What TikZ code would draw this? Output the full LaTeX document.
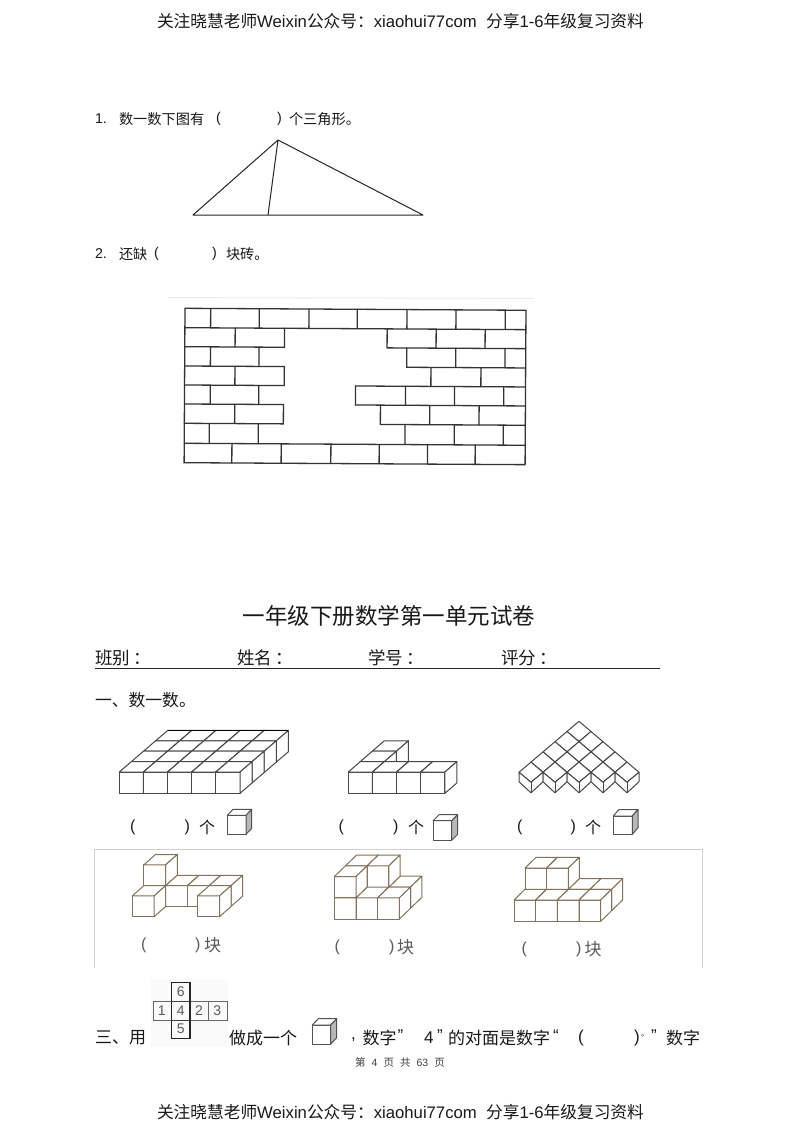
\documentclass[tikz,border=0pt]{standalone}
\usepackage{fontspec}
\setmainfont{Liberation Sans}
\newfontfamily\cjk{Noto Sans CJK SC}
\newcommand{\C}[1]{{\cjk #1}}
\newcommand{\fs}[1]{\fontsize{#1}{#1}\selectfont}
\tikzset{
  txt/.style={anchor=west,inner sep=0pt,outer sep=0pt,text=black!90},
  wall/.style={line width=1.3pt,draw=black!80},
  cubeline/.style={line width=1pt,draw=black!72,line join=round},
  photo/.style={line width=1pt,draw=brown!45!black!72,line join=round},
  icon/.style={line width=1pt,draw=black!68,line join=round},
  faint/.style={draw=black!18,line width=0.8pt}
}
% unit cube in a scope whose x,y,z are the block's axes
\newcommand{\ucube}[4][cubeline]{%
  \filldraw[#1,fill=white] (#2,#3,#4) -- ++(1,0,0) -- ++(0,1,0) -- ++(-1,0,0) -- cycle;
  \filldraw[#1,fill=white] (#2,#3+1,#4) -- ++(1,0,0) -- ++(0,0,1) -- ++(-1,0,0) -- cycle;
  \filldraw[#1,fill=white] (#2+1,#3,#4) -- ++(0,1,0) -- ++(0,0,1) -- ++(0,-1,0) -- cycle;
}
% small icon: front lower-left x,y; size w; depth dx dy
\newcommand{\icube}[6]{%
  \filldraw[icon,fill=white] (#1,#2) rectangle (#1+#3,#2-#4);
  \filldraw[icon,fill=white] (#1,#2-#4) -- ++(#5,-#6) -- ++(#3,0) -- ++(-#5,#6) -- cycle;
  \filldraw[icon,fill=black!28] (#1+#3,#2) -- ++(#5,-#6) -- ++(0,-#4) -- ++(-#5,#6) -- cycle;
}
\begin{document}
\begin{tikzpicture}[x=1pt,y=-1pt]
\useasboundingbox (0,0) rectangle (800,1132);
\fill[white] (0,0) rectangle (800,1132);

% header and footer
\node[txt] (head) at (157,21) {\fs{16.7}\C{关注晓慧老师}Weixin\C{公众号：}xiaohui77com\ \ \C{分享}1-6\C{年级复习资料}};
\node[txt] (foot) at (157,1112) {\fs{16.7}\C{关注晓慧老师}Weixin\C{公众号：}xiaohui77com\ \ \C{分享}1-6\C{年级复习资料}};

% question 1
\node[txt] (q1a) at (95,119) {\fs{14.2}1.};
\node[txt] (q1b) at (119,119) {\fs{14.2}\C{数一数下图有}};
\node[txt] (q1c) at (216,119) {\fs{14.2}(};
\node[txt] (q1d) at (277,119) {\fs{14.2})};
\node[txt] (q1e) at (289,119) {\fs{14.2}\C{个三角形。}};
\coordinate (apex) at (278,140);
\coordinate (tl) at (193,215);
\coordinate (tr) at (423,215);
\coordinate (tf) at (268,215);
\draw[line width=1pt,black!85,line join=round] (apex) -- (tl) -- (tr) -- cycle (apex) -- (tf);

% question 2
\node[txt] (q2a) at (95,254) {\fs{14.2}2.};
\node[txt] (q2b) at (119,254) {\fs{14.2}\C{还缺}};
\node[txt] (q2c) at (154,254) {\fs{14.2}(};
\node[txt] (q2d) at (212,254) {\fs{14.2})};
\node[txt] (q2e) at (226,254) {\fs{14.2}\C{块砖。}};

% brick wall
\draw[draw=black!8,line width=0.8pt] (168,297.5) -- (534,298.5);
\begin{scope}[rotate around={-0.33:(185,308)},wall,line cap=round]
  \draw (185,308.3) rectangle (526,462.7);
  \draw (185,327.7) -- (526,327.7);
  \draw (185,346.7) -- (284.7,346.7) (387.3,346.7) -- (526,346.7);
  \draw (185,366) -- (284.7,366) (407,366) -- (526,366);
  \draw (185,385) -- (284.7,385) (356,385) -- (526,385);
  \draw (185,404) -- (284,404) (356,404) -- (526,404);
  \draw (185,423.3) -- (284,423.3) (381,423.3) -- (526,423.3);
  \draw (185,443.3) -- (526,443.3);
  \foreach \x in {210.7,259.3,309,357.3,407,456,505.3} \draw (\x,308.3) -- (\x,327.7);
  \foreach \x in {235.3,284.7,387.3,436.3,485.3} \draw (\x,327.7) -- (\x,346.7);
  \foreach \x in {210.7,259.3,407,456,505.3} \draw (\x,346.7) -- (\x,366);
  \foreach \x in {235.3,284.7,431.3,481.3} \draw (\x,366) -- (\x,385);
  \foreach \x in {210.7,259.3,356,406,455,504.3} \draw (\x,385) -- (\x,404);
  \foreach \x in {235.3,284,381,430.3,479.7} \draw (\x,404) -- (\x,423.3);
  \foreach \x in {210,259,405.7,455,504} \draw (\x,423.3) -- (\x,443.3);
  \foreach \x in {232.7,282,331.7,380,428.3,476} \draw (\x,443.3) -- (\x,462.7);
\end{scope}

% title
\node[inner sep=0pt,text=black!90] (title) at (389,616) {\fs{22.5}\C{一年级下册数学第一单元试卷}};
\node[txt] (f1) at (95,658) {\fs{17.5}\C{班别}\hspace{3.5pt}\C{：}};
\node[txt] (f2) at (237,658) {\fs{17.5}\C{姓名}\hspace{3.5pt}\C{：}};
\node[txt] (f3) at (368,658) {\fs{17.5}\C{学号}\hspace{3.5pt}\C{：}};
\node[txt] (f4) at (501,658) {\fs{17.5}\C{评分}\hspace{3.5pt}\C{：}};
\coordinate (ula) at (95,668);
\coordinate (ulb) at (660,668);
\draw[line width=0.8pt,black!85] (ula) -- (ulb);
\node[txt] (sec1) at (95,700) {\fs{16.8}\C{一、数一数。}};

% block 1
\begin{scope}[shift={(119.3,793.3)},x={(24.14pt,0pt)},y={(0pt,21.3pt)},z={(12.1pt,10.4pt)}]
  \foreach \r in {3,2,1,0}{\foreach \c in {0,...,4}{\ucube{\c}{0}{\r}}}
  \draw[line width=1.3pt,black] (0,1,4) -- (5,1,4);
\end{scope}
% block 2
\begin{scope}[shift={(348.3,793.3)},x={(24.15pt,0pt)},y={(0pt,21.3pt)},z={(12pt,10.4pt)}]
  \ucube{0}{0}{2}\ucube{0}{0}{1}
  \foreach \c in {0,...,3}{\ucube{\c}{0}{0}}
\end{scope}
% block 3
\foreach \r in {4,3,2,1,0}{
  \pgfmathtruncatemacro{\kmax}{4-\r}
  \foreach \k in {0,...,\kmax}{
    \pgfmathsetmacro{\cx}{531+12*\r+24*\k}
    \pgfmathsetmacro{\cy}{772.3-10.2*\r}
    \filldraw[cubeline,fill=white] (\cx-12,\cy) -- (\cx,\cy+10) -- (\cx+12,\cy) -- (\cx,\cy-10.2) -- cycle;
    \ifnum\r=0
      \filldraw[cubeline,fill=white] (\cx-12,\cy) -- (\cx-12,\cy+9.5) -- (\cx,\cy+20.5) -- (\cx+12,\cy+9.5) -- (\cx+12,\cy) -- (\cx,\cy+10) -- cycle;
      \draw[cubeline] (\cx,\cy+10) -- (\cx,\cy+20.5);
    \fi
  }
}

% counting line
\foreach \n/\a/\b/\c in {a/130/184.5/199,b/338.5/393/408,c/517/570.5/585}{
  \node[txt] (p\n) at (\a,827) {\fs{16}(};
  \node[txt] (r\n) at (\b,827) {\fs{16})};
  \node[txt] (g\n) at (\c,827) {\fs{16}\C{个}};
}
\icube{227.3}{834.3}{18.7}{19}{5.7}{6}
\icube{433}{840.3}{18.7}{19.6}{6}{6}
\icube{613.3}{834.3}{19}{18.3}{5.7}{6.5}

% scanned panel
\draw[faint] (94.7,968) -- (94.7,849) -- (702,849) -- (702,968);
\begin{scope}[shift={(132.3,916.7)},x={(21.8pt,0pt)},y={(0pt,20.8pt)},z={(11.6pt,10.3pt)}]
  \ucube[photo]{0}{0}{1}\ucube[photo]{0}{1}{1}
  \ucube[photo]{1}{0}{1}\ucube[photo]{2}{0}{1}\ucube[photo]{3}{0}{1}
  \ucube[photo]{0}{0}{0}\ucube[photo]{3}{0}{0}
\end{scope}
\begin{scope}[shift={(334.3,919)},x={(21.7pt,0pt)},y={(0pt,21.2pt)},z={(11.2pt,10.8pt)}]
  \ucube[photo]{0}{0}{1}\ucube[photo]{1}{0}{1}\ucube[photo]{2}{0}{1}
  \ucube[photo]{0}{1}{1}\ucube[photo]{1}{1}{1}
  \ucube[photo]{0}{0}{0}\ucube[photo]{1}{0}{0}\ucube[photo]{2}{0}{0}
  \ucube[photo]{0}{1}{0}
\end{scope}
\begin{scope}[shift={(514,921.3)},x={(21.67pt,0pt)},y={(0pt,21.3pt)},z={(11pt,10.7pt)}]
  \foreach \c in {0,...,3}{\ucube[photo]{\c}{0}{1}}
  \ucube[photo]{0}{1}{1}\ucube[photo]{1}{1}{1}
  \foreach \c in {0,...,3}{\ucube[photo]{\c}{0}{0}}
\end{scope}
\foreach \n/\a/\b/\c/\y in {d/141/195/204/945,e/334.5/389/397/947.5,f/521.5/576/584.5/949}{
  \node[txt,text=black!65] (p\n) at (\a,\y) {\fs{16}(};
  \node[txt,text=black!65] (r\n) at (\b,\y) {\fs{16})};
  \node[txt,text=black!65] (k\n) at (\c,\y) {\fs{17}\C{块}};
}

% net of the die
\fill[black!2] (150.7,979) rectangle (228.3,1046.7);
\draw[line width=0.9pt,black!60] (153,1001.3) rectangle (227,1020.3);
\draw[line width=0.9pt,black!60] (190,1001.3) -- (190,1020.3) (208.3,1001.3) -- (208.3,1020.3);
\draw[line width=1.1pt,black!85] (171.3,982.3) rectangle (190,1038.3);
\draw[line width=0.9pt,black!75] (171.3,1001.3) -- (190,1001.3) (171.3,1020.3) -- (190,1020.3);
\foreach \n/\t/\x/\y in {six/6/180.7/992,one/1/161.7/1010.7,four/4/180.7/1010.7,two/2/199/1010.7,three/3/217.3/1010.7,five/5/180.7/1028.3}{
  \node[inner sep=0pt,text=black!65] (n\n) at (\x,\y) {\fs{14}\t};
}

% question 3 line
\node[txt] (s3a) at (95,1038) {\fs{17}\C{三、用}};
\node[txt] (s3b) at (229,1038) {\fs{17}\C{做成一个}};
\icube{312.3}{1044}{18.4}{19}{6}{6.3}
\node[txt] (s3c) at (351,1040) {\fs{17},};
\node[txt] (s3d) at (362.5,1038) {\fs{17}\C{数字}};
\node[txt] (s3e) at (397.5,1036) {\fs{17}”};
\node[txt] (s3f) at (424,1038) {\fs{17}4};
\node[txt] (s3g) at (437,1036) {\fs{17}”};
\node[txt] (s3h) at (448,1038) {\fs{17}\C{的对面是数字}};
\node[txt] (s3i) at (553,1036) {\fs{17}“};
\node[txt] (s3j) at (578,1038) {\fs{17}(};
\node[txt] (s3k) at (634,1038) {\fs{17})};
\node[txt] (s3l) at (641,1036) {\fs{8}\C{。}};
\node[txt] (s3m) at (651,1036) {\fs{17}”};
\node[txt] (s3n) at (666,1038) {\fs{17}\C{数字}};
\node[inner sep=0pt,text=black!75] (page) at (400,1062) {\fs{10.5}\C{第}\hspace{6pt}4\hspace{6pt}\C{页}\hspace{6pt}\C{共}\hspace{6pt}63\hspace{6pt}\C{页}};
\end{tikzpicture}
\end{document}
